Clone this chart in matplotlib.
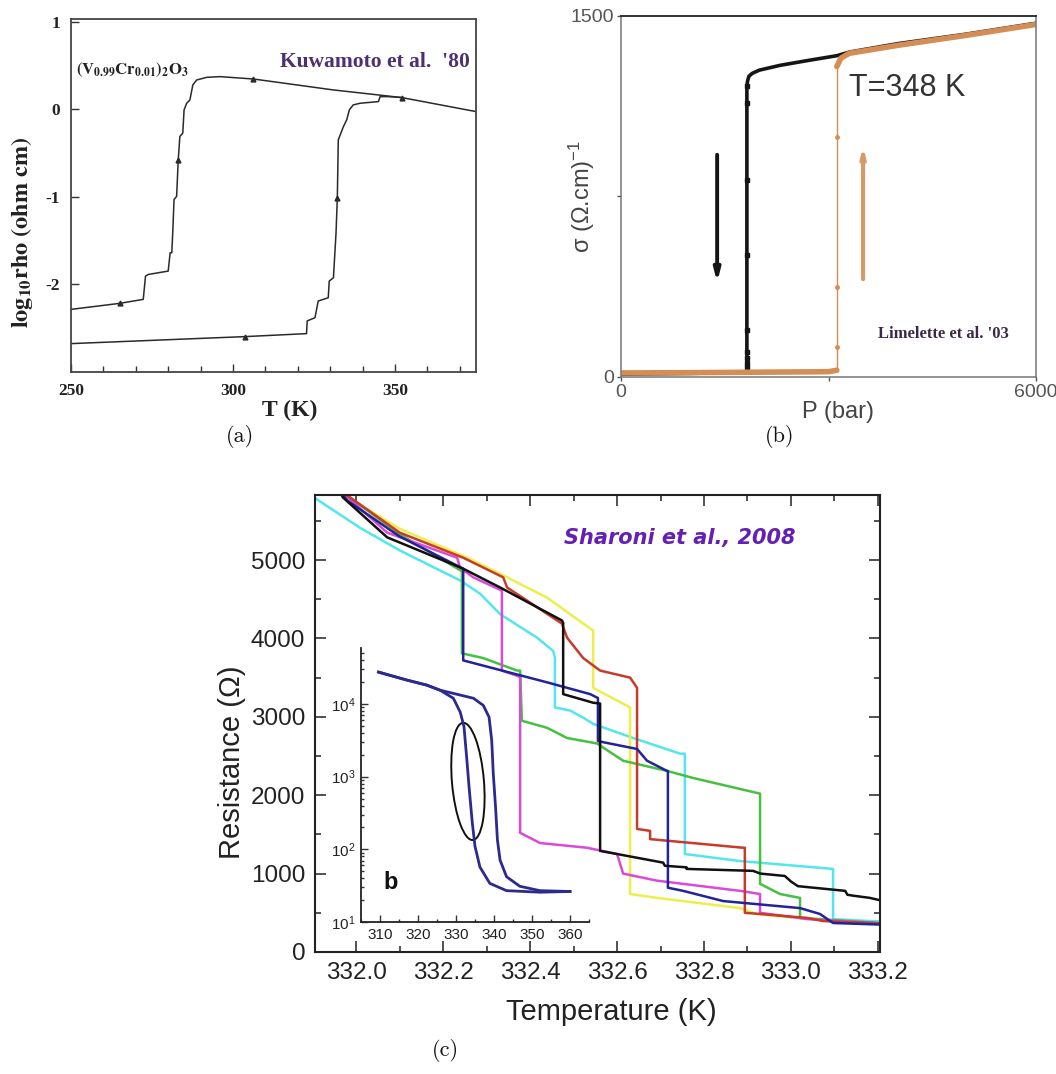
import matplotlib
matplotlib.use("Agg")
import matplotlib.pyplot as plt
from matplotlib.patches import Ellipse
from matplotlib.ticker import MultipleLocator, LogLocator, NullFormatter

W, H = 1056, 1074

plt.rcParams['mathtext.fontset'] = 'custom'
plt.rcParams['mathtext.rm'] = 'Liberation Sans'
plt.rcParams['mathtext.it'] = 'Liberation Sans:italic'
plt.rcParams['mathtext.bf'] = 'Liberation Sans:bold'

# ---- (a) Kuwamoto et al. '80: log10 resistivity vs T, (V0.99Cr0.01)2O3
kuw_cool_T = [250, 265.1, 272.3, 273.0, 273.9, 280.0, 280.6, 281.1, 281.4, 281.8, 282.6, 283.1,
              283.6, 284.5, 284.9, 285.7, 286.7, 287.6, 288.8, 291.9, 296.0, 306.3, 331.0, 352.1, 375]
kuw_cool_logrho = [-2.285, -2.216, -2.171, -1.905, -1.886, -1.848, -1.639, -1.639, -1.412, -1.032,
                   -0.994, -0.577, -0.311, -0.273, -0.008, 0.068, 0.106, 0.277, 0.334, 0.364, 0.372,
                   0.345, 0.220, 0.133, -0.027]
kuw_heat_T = [250, 303.7, 322.7, 322.9, 325.3, 326.3, 329.4, 329.7, 331.0, 331.8, 332.2, 332.5,
              334.1, 335.1, 335.9, 337.1, 339.2, 344.9, 345.4, 347.9, 352.1]
kuw_heat_logrho = [-2.676, -2.596, -2.562, -2.417, -2.380, -2.190, -2.152, -1.962, -1.924, -1.412,
                   -1.013, -0.349, -0.197, -0.121, -0.008, 0.049, 0.068, 0.087, 0.144, 0.144, 0.133]
kuw_mark_T = [265.1, 283.1, 306.3, 352.1, 332.2, 303.7]
kuw_mark_logrho = [-2.216, -0.577, 0.345, 0.133, -1.013, -2.596]

# ---- (b) Limelette et al. '03: conductivity vs pressure at 348 K
lim_down_P = [6000, 5000, 4000, 3300, 3120, 2700, 2300, 2000, 1900, 1850, 1830, 1820, 1820, 1000, 0]
lim_down_sigma = [1470, 1425, 1385, 1350, 1335, 1315, 1295, 1275, 1262, 1250, 1230, 1210, 20, 15, 12]
lim_down_mark_P = [1820, 1820, 1820, 1820, 1820, 1820, 1820, 1820, 1820]
lim_down_mark_sigma = [1210, 1138, 818, 507, 195, 104, 79, 58, 42]
lim_up_low_P = [0, 1000, 2000, 3000, 3120]
lim_up_low_sigma = [17, 18, 20, 22, 28]
lim_up_jump_P = [3120, 3120]
lim_up_jump_sigma = [28, 1290]
lim_up_jump_mark_sigma = [125, 374, 997]
lim_up_high_P = [3120, 3180, 3300, 4000, 5000, 6000]
lim_up_high_sigma = [1290, 1325, 1345, 1378, 1420, 1465]

# ---- (c) Sharoni et al. 2008: resistance steps of VO2 nanostructures
T_black = [331.96, 331.969, 332.071, 332.246, 332.331, 332.473, 332.476, 332.476, 332.545, 332.561,
           332.561, 332.600, 332.706, 332.710, 332.76, 332.76, 332.913, 332.93, 332.986, 333.0,
           333.016, 333.125, 333.13, 333.148, 333.182, 333.205]
R_black = [5900, 5800, 5290, 4890, 4650, 4230, 4200, 3290, 3180, 3170,
           1290, 1250, 1140, 1100, 1080, 1060, 1035, 1000, 970, 900,
           840, 780, 730, 715, 690, 660]
T_red = [331.96, 332.10, 332.246, 332.338, 332.347, 332.473, 332.485, 332.522, 332.561, 332.630,
         332.646, 332.646, 332.676, 332.676, 332.890, 332.894, 332.894, 332.929, 333.037, 333.074, 333.205]
R_red = [5900, 5350, 5030, 4780, 4650, 4190, 4010, 3750, 3590, 3500,
         3370, 1570, 1545, 1440, 1330, 1330, 500, 485, 435, 395, 365]
T_yellow = [331.95, 332.10, 332.255, 332.347, 332.439, 332.545, 332.545, 332.630, 332.630, 332.692,
            332.883, 332.922, 333.0]
R_yellow = [5900, 5400, 5030, 4780, 4520, 4100, 3370, 3120, 740, 690, 560, 485, 440]
T_magenta = [331.96, 332.071, 332.232, 332.239, 332.269, 332.335, 332.335, 332.372, 332.377, 332.377,
             332.423, 332.531, 332.600, 332.614, 332.692, 332.883, 332.929, 332.929, 333.037, 333.205]
R_magenta = [5900, 5350, 5030, 4900, 4780, 4610, 3590, 3520, 3500, 1520,
             1390, 1330, 1250, 1000, 910, 780, 740, 500, 420, 365]
T_blue = [331.96, 331.979, 332.10, 332.246, 332.246, 332.439, 332.538, 332.556, 332.556, 332.646,
          332.669, 332.715, 332.717, 332.717, 332.752, 332.844, 333.021, 333.067, 333.097, 333.205]
R_blue = [5900, 5760, 5300, 4890, 3720, 3440, 3290, 3240, 2690, 2590,
          2440, 2310, 2310, 820, 780, 650, 560, 485, 370, 350]
T_green = [331.96, 332.10, 332.239, 332.243, 332.243, 332.292, 332.370, 332.377, 332.381, 332.439,
           332.485, 332.554, 332.614, 332.715, 332.775, 332.929, 332.929, 332.975, 333.021, 333.021,
           333.205]
R_green = [5900, 5330, 4870, 4870, 3810, 3750, 3590, 3590, 2950, 2860,
           2730, 2660, 2440, 2310, 2220, 2020, 870, 740, 690, 435, 370]
T_cyan = [331.905, 332.009, 332.101, 332.239, 332.285, 332.331, 332.416, 332.453, 332.457, 332.457,
          332.492, 332.522, 332.545, 332.637, 332.745, 332.756, 332.756, 332.883, 333.097, 333.097,
          333.182, 333.205]
R_cyan = [5790, 5410, 5120, 4740, 4570, 4310, 4010, 3840, 3750, 3120,
          3080, 2990, 2910, 2730, 2530, 2530, 1250, 1160, 1060, 420, 395, 390]

# inset: full loop on log scale
loop_cool_T = [309.6, 317.0, 322.3, 325.8, 329.3, 331.1, 332.1, 332.8, 333.5, 334.3, 335.0, 336.3,
               338.9, 343.3, 352.1, 360.0]
loop_cool_R = [27500, 21400, 18200, 15500, 12000, 7760, 4900, 1860, 660, 229, 110, 57,
               34, 27, 25.7, 26.3]
loop_heat_T = [309.6, 317.0, 322.3, 325.8, 334.6, 337.2, 338.7, 339.4, 339.8, 340.4, 340.9, 341.6,
               343.3, 346.8, 352.1, 360.0]
loop_heat_R = [27500, 21400, 18200, 15500, 12000, 9550, 6600, 3160, 1120, 389, 135, 71,
               42, 31, 27, 26.3]


def px_rect(left, top, right, bottom):
    return [left / W, 1 - bottom / H, (right - left) / W, (bottom - top) / H]


fig = plt.figure(figsize=(W / 100, H / 100), dpi=100)

# ------------------------------------------------------------------ (a)
serif = 'Liberation Serif'
ax_a = fig.add_axes(px_rect(71, 19, 476, 372))
ax_a.plot(kuw_cool_T, kuw_cool_logrho, color='#2a2a2a', lw=1.1)
ax_a.plot(kuw_heat_T, kuw_heat_logrho, color='#2a2a2a', lw=1.1)
ax_a.plot(kuw_mark_T, kuw_mark_logrho, ls='none', marker='^', ms=3.5, color='#2a2a2a')
ax_a.set_xlim(250, 375)
ax_a.set_ylim(-3.0, 1.03)
ax_a.set_xticks([250, 300, 350])
ax_a.xaxis.set_minor_locator(MultipleLocator(10))
ax_a.set_yticks([-2, -1, 0, 1])
ax_a.set_yticklabels(['-2', '-1', '0', '1'])
ax_a.tick_params(which='both', direction='in', colors='#333333', width=1.0)
ax_a.tick_params(which='major', length=6, pad=8)
ax_a.tick_params(which='minor', length=4)
for lab in ax_a.get_xticklabels() + ax_a.get_yticklabels():
    lab.set_fontfamily(serif)
    lab.set_fontweight('bold')
    lab.set_fontsize(12.5)
    lab.set_color('#222222')
for s in ax_a.spines.values():
    s.set_color('#444444')
    s.set_linewidth(1.3)
ax_a.text(0.012, 0.855, r'$\mathbf{(V_{0.99}Cr_{0.01})_2O_3}$', transform=ax_a.transAxes,
          fontsize=12, math_fontfamily='stix', color='#222222', va='center')
ax_a.text(0.985, 0.878, "Kuwamoto et al.  '80", transform=ax_a.transAxes, ha='right', va='center',
          fontfamily=serif, fontweight='bold', fontsize=15.5, color='#4e3070')
fig.text(22 / W, 1 - 232 / H, r'$\mathbf{log_{10}rho\ (ohm\ cm)}$', rotation=90, ha='center',
         va='center', fontsize=17.5, math_fontfamily='stix', color='#222222')
fig.text(290 / W, 1 - 410 / H, 'T (K)', ha='center', va='center', fontfamily=serif,
         fontweight='bold', fontsize=17, color='#222222')

# ------------------------------------------------------------------ (b)
narrow = ['Liberation Sans Narrow', 'Liberation Sans']
orange = '#d48e55'
ax_b = fig.add_axes(px_rect(621, 16, 1036, 377))
ax_b.plot(lim_down_P, lim_down_sigma, color='#151515', lw=2.6)
ax_b.plot(lim_down_mark_P, lim_down_mark_sigma, ls='none', marker='s', ms=3, color='#151515')
ax_b.plot(lim_up_low_P, lim_up_low_sigma, color=orange, lw=4, solid_capstyle='round')
ax_b.plot(lim_up_jump_P, lim_up_jump_sigma, color=orange, lw=1)
ax_b.plot([lim_up_jump_P[0]] * len(lim_up_jump_mark_sigma), lim_up_jump_mark_sigma, ls='none',
          marker='o', ms=2.5, color=orange)
ax_b.plot(lim_up_high_P, lim_up_high_sigma, color=orange, lw=4, solid_capstyle='round')
ax_b.annotate('', xy=(1390, 382), xytext=(1390, 935),
              arrowprops=dict(arrowstyle='-|>,head_length=0.7,head_width=0.18', color='#151515', lw=2.8))
ax_b.annotate('', xy=(3500, 972), xytext=(3500, 395),
              arrowprops=dict(arrowstyle='-|>,head_length=0.5,head_width=0.12', color='#d49a68', lw=3))
ax_b.set_xlim(0, 6000)
ax_b.set_ylim(0, 1500)
ax_b.set_xticks([0, 3000, 6000])
ax_b.set_xticklabels(['0', '', '6000'])
ax_b.set_yticks([0, 750, 1500])
ax_b.set_yticklabels(['0', '', '1500'])
ax_b.tick_params(direction='out', length=3, width=1, colors='#555555', labelsize=14, pad=2)
for lab in ax_b.get_xticklabels() + ax_b.get_yticklabels():
    lab.set_fontfamily(narrow)
    lab.set_color('#555555')
ax_b.spines['top'].set_color('#222222')
ax_b.spines['top'].set_linewidth(1.3)
for side in ('left', 'bottom', 'right'):
    ax_b.spines[side].set_color('#777777')
    ax_b.spines[side].set_linewidth(1.1)
ax_b.text(0.55, 0.80, 'T=348 K', transform=ax_b.transAxes, fontfamily=narrow, fontsize=22,
          color='#333333', va='center', ha='left')
ax_b.text(0.935, 0.118, "Limelette et al. '03", transform=ax_b.transAxes, fontfamily=serif,
          fontweight='bold', fontsize=12, color='#3a2848', ha='right', va='center')
fig.text(582 / W, 1 - 197 / H, r'σ (Ω.cm)$^{-1}$', rotation=90, ha='center', va='center',
         fontfamily=narrow, fontsize=17, color='#444444')
fig.text(838 / W, 1 - 412 / H, 'P (bar)', ha='center', va='center', fontfamily=narrow,
         fontsize=17, color='#444444')

# ------------------------------------------------------------------ (c)
sans = 'Liberation Sans'
ax_c = fig.add_axes(px_rect(315, 495, 880, 952))
curves = [
    (T_cyan, R_cyan, '#52e6ee'),
    (T_yellow, R_yellow, '#eeee4a'),
    (T_green, R_green, '#45c040'),
    (T_magenta, R_magenta, '#d94ad9'),
    (T_red, R_red, '#c83a2a'),
    (T_blue, R_blue, '#22229a'),
    (T_black, R_black, '#111111'),
]
for T, R, c in curves:
    ax_c.plot(T, R, color=c, lw=1.8)
ax_c.set_xlim(331.905, 333.205)
ax_c.set_ylim(0, 5830)
ax_c.set_xticks([332.0, 332.2, 332.4, 332.6, 332.8, 333.0, 333.2])
ax_c.set_xticklabels(['332.0', '332.2', '332.4', '332.6', '332.8', '333.0', '333.2'])
ax_c.xaxis.set_minor_locator(MultipleLocator(0.1))
ax_c.set_yticks([0, 1000, 2000, 3000, 4000, 5000])
ax_c.yaxis.set_minor_locator(MultipleLocator(500))
ax_c.tick_params(which='both', direction='in', top=True, right=True, width=1.2, color='#333333')
ax_c.tick_params(which='major', length=8, labelsize=17.5, pad=7)
ax_c.tick_params(which='minor', length=4)
for lab in ax_c.get_xticklabels() + ax_c.get_yticklabels():
    lab.set_fontfamily(sans)
    lab.set_color('#222222')
for s in ax_c.spines.values():
    s.set_linewidth(1.5)
    s.set_color('#222222')
ax_c.text(0.44, 0.905, 'Sharoni et al., 2008', transform=ax_c.transAxes, fontfamily='DejaVu Sans',
          fontweight='bold', fontstyle='italic', fontsize=15, color='#6420b4', va='center')
fig.text(232 / W, 1 - 762 / H, 'Resistance (Ω)', rotation=90, ha='center', va='center',
         fontfamily=sans, fontsize=21, color='#222222')
fig.text(611 / W, 1 - 1012 / H, 'Temperature (K)', ha='center', va='center', fontfamily=sans,
         fontsize=21, color='#222222')

# inset with the whole hysteresis loop
ax_in = fig.add_axes(px_rect(361, 648, 589, 922))
ax_in.patch.set_alpha(0)
ax_in.plot(loop_cool_T, loop_cool_R, color='#2c2a8e', lw=2)
ax_in.plot(loop_heat_T, loop_heat_R, color='#2c2a8e', lw=2)
ax_in.set_yscale('log')
ax_in.set_xlim(305, 365)
ax_in.set_ylim(10, 59000)
ax_in.set_xticks([310, 320, 330, 340, 350, 360])
ax_in.xaxis.set_minor_locator(MultipleLocator(5))
ax_in.set_yticks([10, 100, 1000, 10000])
ax_in.set_yticklabels([r'$10^1$', r'$10^2$', r'$10^3$', r'$10^4$'])
ax_in.yaxis.set_minor_locator(LogLocator(base=10, subs=range(2, 10)))
ax_in.yaxis.set_minor_formatter(NullFormatter())
ax_in.tick_params(which='both', direction='in', width=1, color='#333333', labelsize=11)
ax_in.tick_params(which='major', length=5, pad=4)
ax_in.tick_params(which='minor', length=2.5)
for lab in ax_in.get_xticklabels() + ax_in.get_yticklabels():
    lab.set_fontfamily(sans)
    lab.set_color('#222222')
ax_in.spines['top'].set_visible(False)
ax_in.spines['right'].set_visible(False)
for side in ('left', 'bottom'):
    ax_in.spines[side].set_linewidth(1.3)
    ax_in.spines[side].set_color('#222222')
ax_in.add_patch(Ellipse((0.469, 0.513), 0.14, 0.43, angle=6, transform=ax_in.transAxes,
                        fill=False, edgecolor='#111111', lw=1.4))
ax_in.text(0.13, 0.145, 'b', transform=ax_in.transAxes, fontfamily=sans, fontweight='bold',
           fontsize=17, color='#111111', ha='center', va='center')

# ------------------------------------------------------------------ captions
for label, x, y in [('(a)', 240, 437), ('(b)', 780, 437), ('(c)', 445, 1050)]:
    fig.text(x / W, 1 - y / H, label, ha='center', va='center', fontfamily='cmr10', fontsize=16,
             color='#111111')

fig.savefig('out.png', dpi=100)
